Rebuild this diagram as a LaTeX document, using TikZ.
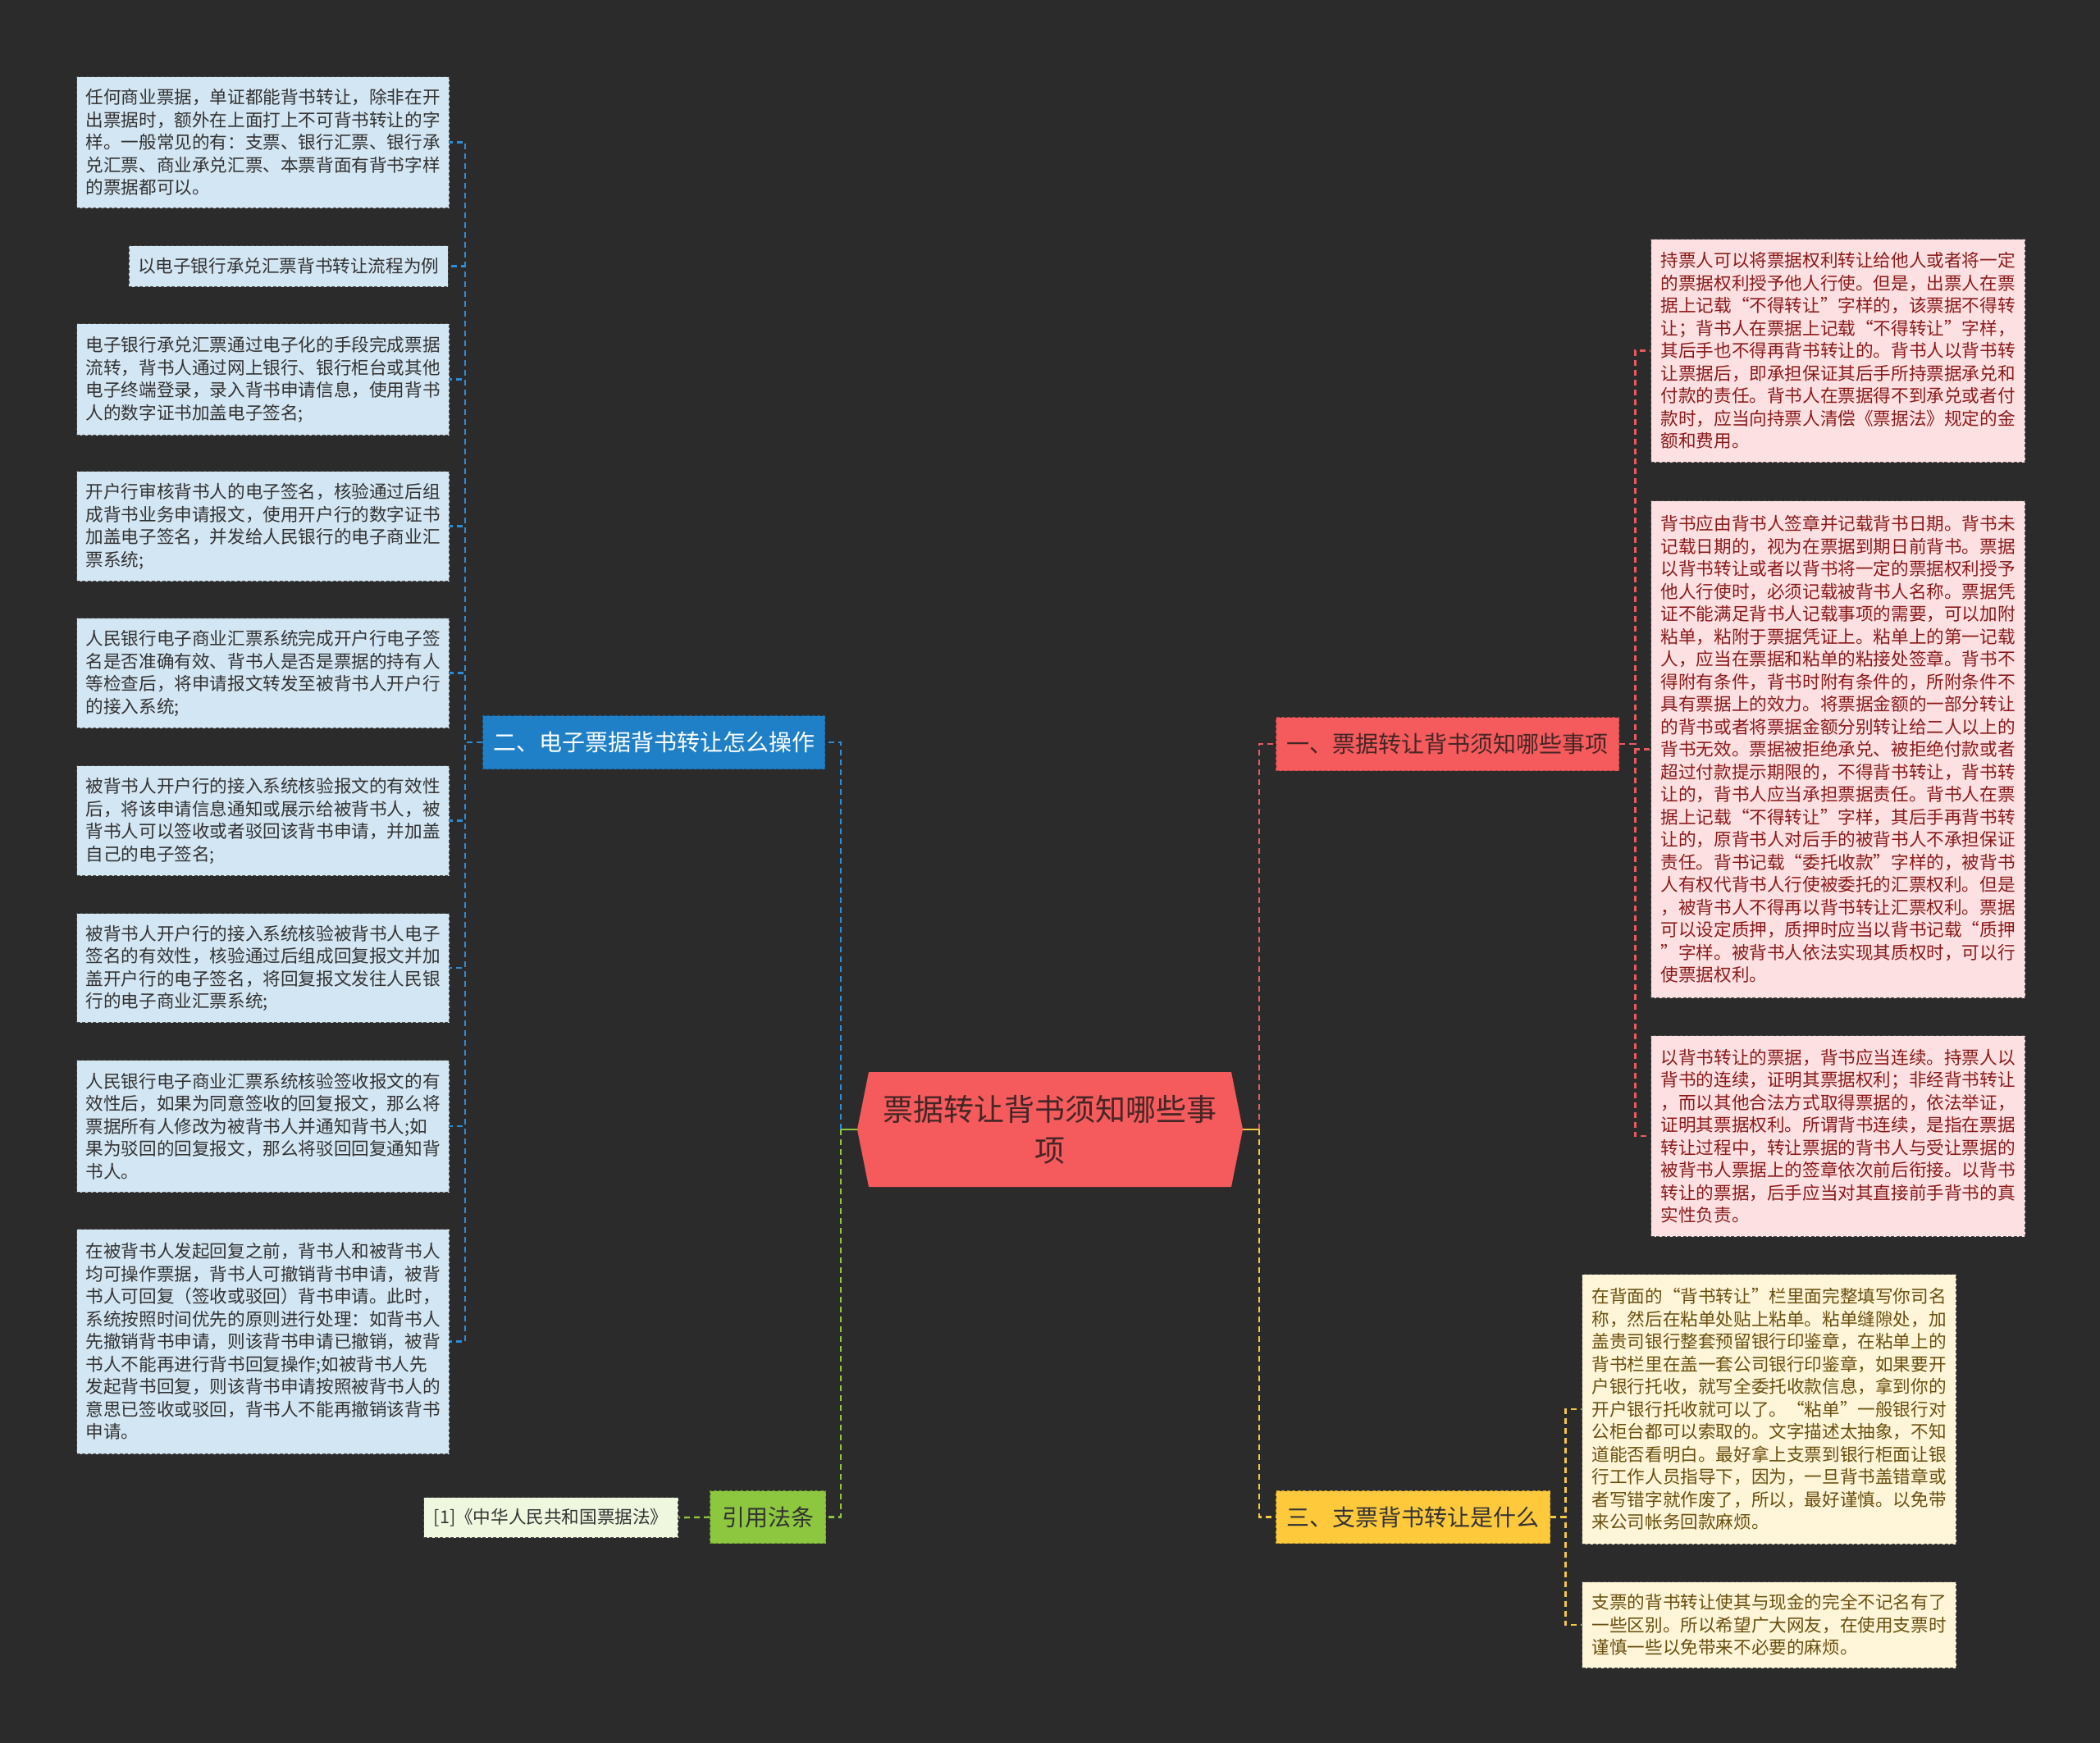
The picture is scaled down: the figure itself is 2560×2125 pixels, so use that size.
\documentclass[tikz,border=0pt]{standalone}
\usepackage{fontspec}
\setmainfont{Noto Sans CJK SC}
\usetikzlibrary{calc}
\definecolor{bgc}{HTML}{2B2B2B}
\definecolor{rootc}{HTML}{F55A5C}
\definecolor{bluec}{HTML}{1F80C8}
\definecolor{redc}{HTML}{F55A5C}
\definecolor{yelc}{HTML}{FFC93C}
\definecolor{grnc}{HTML}{8DC63F}
\definecolor{bleafc}{HTML}{D3E6F3}
\definecolor{pleafc}{HTML}{FDE1E2}
\definecolor{yleafc}{HTML}{FFF6D9}
\definecolor{gleafc}{HTML}{EFF7DF}
\definecolor{blinec}{HTML}{2C8DD6}
\definecolor{rlinec}{HTML}{E85A5E}
\definecolor{ylinec}{HTML}{F5C842}
\definecolor{glinec}{HTML}{8DC63F}
\definecolor{darktxt}{HTML}{333333}
\definecolor{roottxt}{HTML}{452626}
\definecolor{redtxt}{HTML}{8B1A1A}
\definecolor{yeltxt}{HTML}{6B4F0F}
\tikzset{
  leafbase/.style={draw=black!70, dash pattern=on 4pt off 2.5pt, line width=1.3pt,
    inner xsep=11pt, inner ysep=0pt, anchor=north west, text width=432pt, align=left,
    font=\fontsize{21.6}{27.5}\selectfont},
  bleaf/.style={leafbase, fill=bleafc, text=darktxt},
  pleaf/.style={leafbase, fill=pleafc, text=redtxt, inner xsep=12pt},
  yleaf/.style={leafbase, fill=yleafc, text=yeltxt, inner xsep=12pt},
  branchbox/.style={dash pattern=on 4pt off 2.5pt, line width=1.3pt, anchor=north west,
    inner sep=0pt, align=center, font=\fontsize{28}{32}\selectfont},
  conn/.style={line width=2.4pt, dash pattern=on 7pt off 5pt},
  bline/.style={conn, draw=blinec},
  rline/.style={conn, draw=rlinec},
  yline/.style={conn, draw=ylinec},
  gline/.style={conn, draw=glinec},
}
\begin{document}
\begin{tikzpicture}[x=1pt,y=-1pt]
\fill[bgc] (0,0) rectangle (2560,2125);
\useasboundingbox (0,0) rectangle (2560,2125);

% root
\fill[rootc] (1059,1307) -- (1501,1307) -- (1515,1377) -- (1501,1447) -- (1059,1447) -- (1045,1377) -- cycle;
\node[minimum width=470pt, minimum height=140pt, inner sep=0pt, align=center, text=roottxt,
  font=\fontsize{37}{50}\selectfont] (root) at (1280,1377) {票据转让背书须知哪些事\\项};

% branches
\node[branchbox, fill=bluec, draw=bluec!75!black, text=white, minimum width=417pt, minimum height=65pt] (bl) at (588,872) {二、电子票据背书转让怎么操作};
\node[branchbox, fill=redc, draw=redc!75!black, text=roottxt, minimum width=418pt, minimum height=65pt] (rd) at (1555,874) {一、票据转让背书须知哪些事项};
\node[branchbox, fill=yelc, draw=yelc!75!black, text=darktxt, minimum width=334pt, minimum height=64pt] (ye) at (1555,1817) {三、支票背书转让是什么};
\node[branchbox, fill=grnc, draw=grnc!75!black, text=darktxt, minimum width=141pt, minimum height=64pt] (gr) at (865,1817) {引用法条};
\node[leafbase, fill=gleafc, text=darktxt, text width=, inner xsep=0pt, align=center, minimum width=310pt, minimum height=49pt] (law) at (516,1825) {[1]《中华人民共和国票据法》};

% left leaves
\node[bleaf, minimum height=160pt] (b1) at (93,93) {任何商业票据，单证都能背书转让，除非在开\\出票据时，额外在上面打上不可背书转让的字\\样。一般常见的有：支票、银行汇票、银行承\\兑汇票、商业承兑汇票、本票背面有背书字样\\的票据都可以。};
\node[bleaf, text width=, anchor=north east, minimum height=50pt] (b2) at (547,299) {以电子银行承兑汇票背书转让流程为例};
\node[bleaf, minimum height=136pt] (b3) at (93,394) {电子银行承兑汇票通过电子化的手段完成票据\\流转，背书人通过网上银行、银行柜台或其他\\电子终端登录，录入背书申请信息，使用背书\\人的数字证书加盖电子签名;};
\node[bleaf, minimum height=134pt] (b4) at (93,574) {开户行审核背书人的电子签名，核验通过后组\\成背书业务申请报文，使用开户行的数字证书\\加盖电子签名，并发给人民银行的电子商业汇\\票系统;};
\node[bleaf, minimum height=134pt] (b5) at (93,753) {人民银行电子商业汇票系统完成开户行电子签\\名是否准确有效、背书人是否是票据的持有人\\等检查后，将申请报文转发至被背书人开户行\\的接入系统;};
\node[bleaf, minimum height=134pt] (b6) at (93,933) {被背书人开户行的接入系统核验报文的有效性\\后，将该申请信息通知或展示给被背书人，被\\背书人可以签收或者驳回该背书申请，并加盖\\自己的电子签名;};
\node[bleaf, minimum height=133pt] (b7) at (93,1113) {被背书人开户行的接入系统核验被背书人电子\\签名的有效性，核验通过后组成回复报文并加\\盖开户行的电子签名，将回复报文发往人民银\\行的电子商业汇票系统;};
\node[bleaf, minimum height=161pt] (b8) at (93,1292) {人民银行电子商业汇票系统核验签收报文的有\\效性后，如果为同意签收的回复报文，那么将\\票据所有人修改为被背书人并通知背书人;如\\果为驳回的回复报文，那么将驳回回复通知背\\书人。};
\node[bleaf, minimum height=274pt] (b9) at (93,1498) {在被背书人发起回复之前，背书人和被背书人\\均可操作票据，背书人可撤销背书申请，被背\\书人可回复（签收或驳回）背书申请。此时，\\系统按照时间优先的原则进行处理：如背书人\\先撤销背书申请，则该背书申请已撤销，被背\\书人不能再进行背书回复操作;如被背书人先\\发起背书回复，则该背书申请按照被背书人的\\意思已签收或驳回，背书人不能再撤销该背书\\申请。};

% right pink leaves
\node[pleaf, minimum height=272pt] (p1) at (2012,291) {持票人可以将票据权利转让给他人或者将一定\\的票据权利授予他人行使。但是，出票人在票\\据上记载“不得转让”字样的，该票据不得转\\让；背书人在票据上记载“不得转让”字样，\\其后手也不得再背书转让的。背书人以背书转\\让票据后，即承担保证其后手所持票据承兑和\\付款的责任。背书人在票据得不到承兑或者付\\款时，应当向持票人清偿《票据法》规定的金\\额和费用。};
\node[pleaf, minimum height=606pt] (p2) at (2012,610) {背书应由背书人签章并记载背书日期。背书未\\记载日期的，视为在票据到期日前背书。票据\\以背书转让或者以背书将一定的票据权利授予\\他人行使时，必须记载被背书人名称。票据凭\\证不能满足背书人记载事项的需要，可以加附\\粘单，粘附于票据凭证上。粘单上的第一记载\\人，应当在票据和粘单的粘接处签章。背书不\\得附有条件，背书时附有条件的，所附条件不\\具有票据上的效力。将票据金额的一部分转让\\的背书或者将票据金额分别转让给二人以上的\\背书无效。票据被拒绝承兑、被拒绝付款或者\\超过付款提示期限的，不得背书转让，背书转\\让的，背书人应当承担票据责任。背书人在票\\据上记载“不得转让”字样，其后手再背书转\\让的，原背书人对后手的被背书人不承担保证\\责任。背书记载“委托收款”字样的，被背书\\人有权代背书人行使被委托的汇票权利。但是\\，被背书人不得再以背书转让汇票权利。票据\\可以设定质押，质押时应当以背书记载“质押\\”字样。被背书人依法实现其质权时，可以行\\使票据权利。};
\node[pleaf, minimum height=245pt] (p3) at (2012,1262) {以背书转让的票据，背书应当连续。持票人以\\背书的连续，证明其票据权利；非经背书转让\\，而以其他合法方式取得票据的，依法举证，\\证明其票据权利。所谓背书连续，是指在票据\\转让过程中，转让票据的背书人与受让票据的\\被背书人票据上的签章依次前后衔接。以背书\\转让的票据，后手应当对其直接前手背书的真\\实性负责。};

% right yellow leaves
\node[yleaf, minimum height=329pt] (y1) at (1928,1553) {在背面的“背书转让”栏里面完整填写你司名\\称，然后在粘单处贴上粘单。粘单缝隙处，加\\盖贵司银行整套预留银行印鉴章，在粘单上的\\背书栏里在盖一套公司银行印鉴章，如果要开\\户银行托收，就写全委托收款信息，拿到你的\\开户银行托收就可以了。“粘单”一般银行对\\公柜台都可以索取的。文字描述太抽象，不知\\道能否看明白。最好拿上支票到银行柜面让银\\行工作人员指导下，因为，一旦背书盖错章或\\者写错字就作废了，所以，最好谨慎。以免带\\来公司帐务回款麻烦。};
\node[yleaf, minimum height=105pt] (y2) at (1928,1928) {支票的背书转让使其与现金的完全不记名有了\\一些区别。所以希望广大网友，在使用支票时\\谨慎一些以免带来不必要的麻烦。};

% connectors root -> branches
\coordinate (lt) at ($(root.west)+(-20,0)$);
\coordinate (rt) at ($(root.east)+(20,0)$);
\draw[bline] (lt) |- (bl.east);
\draw[gline] (lt) |- (gr.east);
\draw[rline] (rt) |- (rd.west);
\draw[yline] (rt) |- (ye.west);
\draw[glinec, line width=2.6pt] (root.west) -- (lt);
\draw[ylinec, line width=2.6pt] (root.east) -- (rt);

% branches -> leaves
\foreach \n in {b1,b2,b3,b4,b5,b6,b7,b8,b9}
  \draw[bline] (bl.west) -- ++(-21,0) |- (\n.east);
\foreach \n in {p1,p2,p3}
  \draw[rline] (rd.east) -- ++(19,0) |- (\n.west);
\foreach \n in {y1,y2}
  \draw[yline] (ye.east) -- ++(18,0) |- (\n.west);
\draw[gline] (gr.west) -- (law.east);
\end{tikzpicture}
\end{document}
